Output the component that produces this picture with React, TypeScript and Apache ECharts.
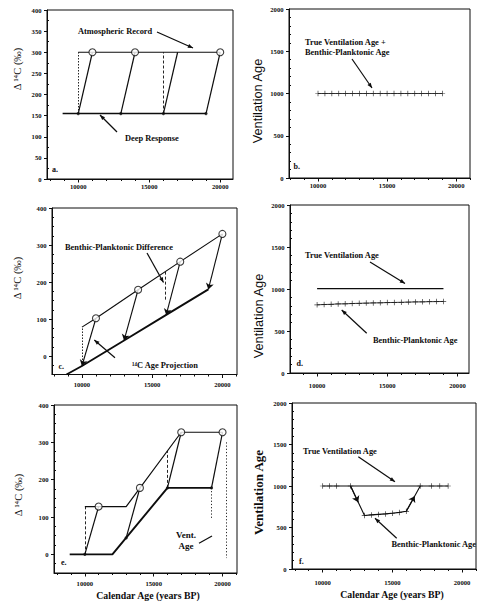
import React, { useEffect, useRef } from "react";
import * as echarts from "echarts";

const INK = "#0d0d0d";
const SERIF = '"Liberation Serif", "Times New Roman", serif';
const SANS = '"Liberation Sans", Arial, sans-serif';

// ---- tick labels -------------------------------------------------------
const CAL_LABELS = [10000, 15000, 20000];
const D14C_LABELS_A = [0, 50, 100, 150, 200, 250, 300, 350, 400];
const D14C_LABELS = [0, 100, 200, 300, 400];
const VENT_LABELS = [0, 500, 1000, 1500, 2000];

// ---- (a) constant atmosphere, deep water lagging by 1000 years ----------
const atmosA = [[10000, 300], [20000, 300]];
const deepA = [[8900, 155], [19000, 155]];
const risesA = [
  [[10000, 155], [11000, 300]],
  [[13000, 155], [14000, 300]],
  [[16000, 155], [17000, 300]],
  [[19000, 155], [20000, 300]],
];
const openA = [[11000, 300], [14000, 300], [20000, 300]];
const baseA = [[10000, 155], [13000, 155], [16000, 155], [19000, 155]];
const dottedA = [[[10000, 155], [10000, 300]]];
const dashedA = [[[16000, 155], [16000, 300]]];

// ---- (b) ventilation age for case (a) -----------------------------------
const ventB = [
  [10000, 1000], [10500, 1000], [11000, 1000], [11500, 1000], [12000, 1000],
  [12500, 1000], [13000, 1000], [13500, 1000], [14000, 1000], [14500, 1000],
  [15000, 1000], [15500, 1000], [16000, 1000], [16500, 1000], [17000, 1000],
  [17500, 1000], [18000, 1000], [18500, 1000], [19000, 1000],
];

// ---- (c) linear trend in atmospheric Δ14C -------------------------------
const upperC = [[10000, 78], [11000, 102], [14000, 179], [17000, 255], [20000, 330]];
const lowerC = [[8900, -50], [10000, -27], [13000, 42], [16000, 111], [19000, 180]];
const openC = [[11000, 102], [14000, 179], [17000, 255], [20000, 330]];
const projC = [
  [[11000, 102], [10000, -27]],
  [[14000, 179], [13000, 42]],
  [[17000, 255], [16000, 111]],
  [[20000, 330], [19000, 180]],
];
const dottedC = [[[10000, -27], [10000, 78]]];
const dashedC = [[[15900, 228], [15900, 150]]];

// ---- (d) ventilation ages for case (c) ----------------------------------
const trueD = [[10000, 1005], [19000, 1005]];
const bpD = [
  [10000, 812], [10500, 815], [11000, 818], [11500, 822], [12000, 824],
  [12500, 827], [13000, 830], [13500, 832], [14000, 834], [14500, 836],
  [15000, 838], [15500, 840], [16000, 842], [16500, 844], [17000, 846],
  [17500, 847], [18000, 849], [18500, 850], [19000, 852],
];

// ---- (e) ramp between two plateaus -------------------------------------
const upperE = [[10000, 128], [13000, 128], [17000, 327], [20000, 327]];
const lowerE = [[8900, 0], [12000, 0], [16000, 178], [19200, 178]];
const openE = [[11000, 128], [14000, 178], [17000, 327], [20000, 327]];
const baseE = [[10000, 0], [13000, 44], [16000, 178], [19200, 178]];
const risesE = [
  [[10000, 0], [11000, 128]],
  [[13000, 44], [14000, 178]],
  [[16000, 178], [17000, 327]],
  [[19200, 178], [20000, 327]],
];
const dashedE = [
  [[10000, 0], [10000, 128]],
  [[16000, 178], [16000, 277]],
];
const dottedE = [
  [[19200, 178], [19200, 95]],
  [[20300, 300], [20300, -10]],
];

// ---- (f) ventilation ages for case (e) ----------------------------------
const trueF = [[10000, 1000], [19000, 1000]];
const trueFMarks = [
  [10000, 1000], [10500, 1000], [11000, 1000], [12000, 1000],
  [17000, 1000], [17800, 1000], [18400, 1000], [19000, 1000],
];
const bpF = [
  [12000, 1000], [13000, 645], [13500, 652], [14000, 658], [14500, 664],
  [15000, 672], [15500, 682], [16000, 695], [17000, 1000],
];
const bpFMarks = [
  [13000, 645], [13500, 652], [14000, 658], [14500, 664],
  [15000, 672], [15500, 682], [16000, 695],
];
const bpFArrows = [
  [[12000, 1000], [12550, 805]],
  [[16000, 695], [16600, 878]],
];

// ---- panel frames (pixels) and axis ranges ------------------------------
type Frame = {
  left: number; top: number; right: number; bottom: number;
  x: [number, number]; y: [number, number];
  yLabels: number[]; yMinorStep: number; xLabelGap: number;
};
const FRAMES: Frame[] = [
  { left: 47, top: 10, right: 233, bottom: 179, x: [7800, 20900], y: [0, 400], yLabels: D14C_LABELS_A, yMinorStep: 25, xLabelGap: 4 },
  { left: 289, top: 9, right: 470, bottom: 178, x: [7900, 21000], y: [0, 2000], yLabels: VENT_LABELS, yMinorStep: 100, xLabelGap: 4 },
  { left: 52, top: 208, right: 237, bottom: 374.5, x: [7870, 21040], y: [-50, 400], yLabels: D14C_LABELS, yMinorStep: 25, xLabelGap: 6.5 },
  { left: 290, top: 205, right: 469, bottom: 373, x: [8070, 20820], y: [0, 2000], yLabels: VENT_LABELS, yMinorStep: 100, xLabelGap: 9 },
  { left: 54, top: 405, right: 237, bottom: 573, x: [7760, 21050], y: [-50, 400], yLabels: D14C_LABELS, yMinorStep: 25, xLabelGap: 6.5 },
  { left: 292, top: 403, right: 476, bottom: 569, x: [7800, 21000], y: [0, 2000], yLabels: VENT_LABELS, yMinorStep: 100, xLabelGap: 10 },
];

const stepsWithin = (lo: number, hi: number, step: number, skip: number[]) => {
  const out: number[] = [];
  for (let v = Math.ceil(lo / step) * step; v <= hi; v += step) {
    if (!skip.includes(v)) out.push(v);
  }
  return out;
};

const PLUS = "path://M0,4.35H10V5.65H0Z M4.35,0H5.65V10H4.35Z";

const on = (i: number) => ({ xAxisIndex: 2 * i, yAxisIndex: 2 * i });

const polyline = (i: number, data: number[][], width: number) => ({
  type: "line", ...on(i), data, symbol: "none", silent: true, z: 3,
  lineStyle: { color: INK, width },
});

const segments = (i: number, segs: number[][][], width: number, dash: any = "solid", arrow = false) => ({
  type: "lines", coordinateSystem: "cartesian2d", ...on(i), silent: true, z: 3,
  data: segs.map((coords) => ({ coords })),
  symbol: arrow ? ["none", "arrow"] : "none",
  symbolSize: 6,
  lineStyle: { color: INK, width, type: dash, opacity: 1, curveness: 0 },
});

const openDots = (i: number, data: number[][]) => ({
  type: "scatter", ...on(i), data, symbol: "circle", symbolSize: 7, silent: true, z: 5,
  itemStyle: { color: "#fff", borderColor: INK, borderWidth: 1.1 },
});

const solidDots = (i: number, data: number[][]) => ({
  type: "scatter", ...on(i), data, symbol: "circle", symbolSize: 3.2, silent: true, z: 4,
  itemStyle: { color: INK },
});

const plusMarks = (i: number, data: number[][]) => ({
  type: "scatter", ...on(i), data, symbol: PLUS, symbolSize: 5.5, silent: true, z: 4,
  itemStyle: { color: INK },
});

const text = (t: string, x: number, y: number, o: any = {}) => ({
  type: "text", x, y, silent: true, z: 10,
  style: {
    text: t, fill: INK, fontFamily: SERIF, fontSize: 8.4, fontWeight: "bold",
    align: "left", verticalAlign: "middle", ...o,
  },
});

const yTitle = (t: string, x: number, y: number, o: any = {}) => ({
  type: "text", x, y, rotation: Math.PI / 2, silent: true, z: 10,
  style: {
    text: t, fill: INK, fontFamily: SERIF, fontSize: 10.5,
    align: "center", verticalAlign: "middle", ...o,
  },
});

const pointer = (x1: number, y1: number, x2: number, y2: number, head = true) => {
  const a = Math.atan2(y2 - y1, x2 - x1);
  const L = 5.5;
  const items: any[] = [
    { type: "line", silent: true, z: 10, shape: { x1, y1, x2, y2 }, style: { stroke: INK, lineWidth: 1.2 } },
  ];
  if (head) {
    items.push({
      type: "polygon", silent: true, z: 10,
      shape: {
        points: [
          [x2, y2],
          [x2 - L * Math.cos(a - 0.38), y2 - L * Math.sin(a - 0.38)],
          [x2 - L * Math.cos(a + 0.38), y2 - L * Math.sin(a + 0.38)],
        ],
      },
      style: { fill: INK },
    });
  }
  return items;
};

function buildOption() {
  const grid = FRAMES.map((f) => ({
    left: f.left, top: f.top, width: f.right - f.left, height: f.bottom - f.top,
    show: true, borderColor: INK, borderWidth: 1, backgroundColor: "transparent",
    containLabel: false, outerBoundsMode: "none",
  }));

  const tickLabel = {
    fontFamily: SERIF, fontSize: 6.6, fontWeight: "bold", color: INK,
    formatter: (v: number) => String(v),
  };

  const xAxis: any[] = [];
  const yAxis: any[] = [];
  FRAMES.forEach((f, i) => {
    xAxis.push({
      type: "value", gridIndex: i, position: "bottom", min: f.x[0], max: f.x[1],
      axisLine: { show: true, onZero: false, lineStyle: { color: INK, width: 1 } },
      axisTick: { show: true, inside: false, length: 3.5, customValues: CAL_LABELS, lineStyle: { color: INK, width: 1 } },
      axisLabel: { show: true, customValues: CAL_LABELS, margin: f.xLabelGap, ...tickLabel },
      splitLine: { show: false },
    });
    xAxis.push({
      type: "value", gridIndex: i, position: "bottom", min: f.x[0], max: f.x[1],
      axisLine: { show: false, onZero: false },
      axisTick: { show: true, inside: false, length: 2, customValues: stepsWithin(f.x[0], f.x[1], 1000, CAL_LABELS), lineStyle: { color: INK, width: 1 } },
      axisLabel: { show: false },
      splitLine: { show: false },
    });
    yAxis.push({
      type: "value", gridIndex: i, position: "left", min: f.y[0], max: f.y[1],
      axisLine: { show: true, onZero: false, lineStyle: { color: INK, width: 1 } },
      axisTick: { show: true, inside: false, length: 3, customValues: f.yLabels, lineStyle: { color: INK, width: 1 } },
      axisLabel: { show: true, customValues: f.yLabels, margin: 5.5, ...tickLabel },
      splitLine: { show: false },
    });
    yAxis.push({
      type: "value", gridIndex: i, position: "left", min: f.y[0], max: f.y[1],
      axisLine: { show: false, onZero: false },
      axisTick: { show: true, inside: true, length: 2, customValues: stepsWithin(f.y[0], f.y[1], f.yMinorStep, f.yLabels), lineStyle: { color: INK, width: 1 } },
      axisLabel: { show: false },
      splitLine: { show: false },
    });
  });

  const series: any[] = [
    // (a)
    polyline(0, atmosA, 1.1),
    polyline(0, deepA, 1.7),
    segments(0, risesA, 1.2),
    segments(0, dottedA, 0.9, [1.5, 1.5]),
    segments(0, dashedA, 0.9, [3, 2]),
    solidDots(0, baseA),
    openDots(0, openA),
    // (b)
    polyline(1, ventB, 0.8),
    plusMarks(1, ventB),
    // (c)
    polyline(2, upperC, 1.1),
    polyline(2, lowerC, 1.9),
    segments(2, projC, 1.1, "solid", true),
    segments(2, dottedC, 0.9, [1.5, 1.5]),
    segments(2, dashedC, 0.9, [3, 2]),
    openDots(2, openC),
    // (d)
    polyline(3, trueD, 1.1),
    polyline(3, bpD, 0.8),
    plusMarks(3, bpD),
    // (e)
    polyline(4, upperE, 1.2),
    polyline(4, lowerE, 1.9),
    segments(4, risesE, 1.2),
    segments(4, dashedE, 0.9, [3, 2]),
    segments(4, dottedE, 0.9, [1.2, 2]),
    solidDots(4, baseE),
    openDots(4, openE),
    // (f)
    polyline(5, trueF, 1.1),
    plusMarks(5, trueFMarks),
    polyline(5, bpF, 1.1),
    plusMarks(5, bpFMarks),
    segments(5, bpFArrows, 1.1, "solid", true),
  ];

  const graphic: any[] = [
    // (a)
    text("Atmospheric Record", 78, 31),
    ...pointer(157, 32, 193, 48),
    text("Deep Response", 125, 138),
    ...pointer(117, 132, 100, 115),
    text("a.", 52, 169, { fontSize: 8 }),
    yTitle("Δ ¹⁴C (‰)", 17, 69),
    // (b)
    text("True Ventilation Age +", 305, 42),
    text("Benthic-Planktonic Age", 305, 52.5),
    ...pointer(352, 59, 372, 88),
    text("b.", 293.5, 166, { fontSize: 8 }),
    yTitle("Ventilation Age", 257, 101, { fontFamily: SANS, fontSize: 12.8 }),
    // (c)
    text("Benthic-Planktonic Difference", 65, 247),
    ...pointer(147, 253, 163.5, 282.5),
    text("¹⁴C Age Projection", 132, 365),
    ...pointer(115, 357.7, 94.3, 340),
    text("c.", 58.5, 366, { fontSize: 8 }),
    yTitle("Δ ¹⁴C (‰)", 17, 278),
    // (d)
    text("True Ventilation Age", 305, 255),
    ...pointer(370, 262, 405, 283.5),
    text("Benthic-Planktonic Age", 373, 340),
    ...pointer(366.7, 333.3, 341.7, 310),
    text("d.", 296.5, 363, { fontSize: 8 }),
    yTitle("Ventilation Age", 258, 316, { fontFamily: SANS, fontSize: 12.8 }),
    // (e)
    text("Vent.", 186, 534.5, { align: "center", fontSize: 9 }),
    text("Age", 186, 545.5, { align: "center", fontSize: 9 }),
    ...pointer(199, 543.3, 212, 536, false),
    text("e.", 61, 562.5, { fontSize: 8 }),
    yTitle("Δ ¹⁴C (‰)", 18, 495),
    text("Calendar Age (years BP)", 148, 595.5, { align: "center", fontSize: 9.8 }),
    // (f)
    text("True Ventilation Age", 303, 451),
    ...pointer(358.3, 456.7, 395, 481.7),
    text("Benthic-Planktonic Age", 391.5, 544.5),
    ...pointer(396.7, 538.3, 375, 518.3),
    text("f.", 299, 561, { fontSize: 8 }),
    yTitle("Ventilation Age", 258, 492.5, { fontSize: 13, fontWeight: "bold" }),
    text("Calendar Age (years BP)", 392, 594.5, { align: "center", fontSize: 9.8 }),
  ];

  return {
    animation: false,
    backgroundColor: "#ffffff",
    textStyle: { fontFamily: SERIF },
    grid,
    xAxis,
    yAxis,
    series,
    graphic,
  };
}

export default function App() {
  const ref = useRef<HTMLDivElement>(null);
  useEffect(() => {
    if (!ref.current) return;
    const chart = echarts.init(ref.current, undefined, { renderer: "svg" });
    chart.setOption(buildOption() as any);
    return () => chart.dispose();
  }, []);
  return (
    <div
      ref={ref}
      style={{ position: "fixed", left: 0, top: 0, width: 477, height: 603, background: "#fff" }}
    />
  );
}
